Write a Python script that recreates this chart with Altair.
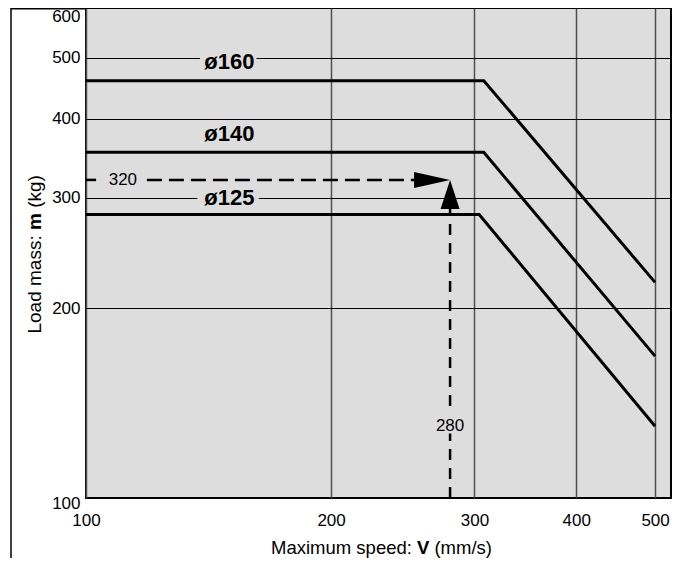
import altair as alt
import pandas as pd

# ---- data -------------------------------------------------------------------
bores = ["ø160", "ø140", "ø125"]
speed_160 = [100, 308, 500]
mass_160 = [460, 460, 220]
speed_140 = [100, 308, 500]
mass_140 = [354, 354, 168]
speed_125 = [100, 304, 500]
mass_125 = [282, 282, 130]

# worked example (arrow target)
example_speed = [280]
example_mass = [320]

x_ticks = [100, 200, 300, 400, 500]
y_ticks = [100, 200, 300, 400, 500, 600]

# annotation anchors (data units)
label_speed = [150, 150, 150]
label_mass = [493, 378, 299]
# gaps in grid lines behind bore labels
gap_x1 = [138, 137]
gap_x2 = [162, 163]
gap_y1 = [475, 291]
gap_y2 = [530, 312]
# dashed guide segments (split around the number labels)
hdash_x1 = [100, 118.8]
hdash_x2 = [102.9, 262]
vdash_y1 = [100, 140]
vdash_y2 = [126.6, 295]
guide_label_x = [111, 280]
guide_label_y = [320, 130]
guide_label_t = ["320", "280"]

BG = "#dddddd"
FONT = "Liberation Sans"
W, H = 585, 490

# ---- tables -----------------------------------------------------------------
curves = pd.DataFrame({
    "v": speed_160 + speed_140 + speed_125,
    "m": mass_160 + mass_140 + mass_125,
    "bore": [bores[0]] * 3 + [bores[1]] * 3 + [bores[2]] * 3,
})
labels = pd.DataFrame({"v": label_speed, "m": label_mass, "t": bores})
gaps = pd.DataFrame({"x1": gap_x1, "x2": gap_x2, "y1": gap_y1, "y2": gap_y2})
hdash = pd.DataFrame({"x1": hdash_x1, "x2": hdash_x2,
                      "y": example_mass * len(hdash_x1)})
vdash = pd.DataFrame({"x": example_speed * len(vdash_y1),
                      "y1": vdash_y1, "y2": vdash_y2})
tip = pd.DataFrame({"v": example_speed, "m": example_mass})
glabels = pd.DataFrame({"v": guide_label_x, "m": guide_label_y, "t": guide_label_t})
one = pd.DataFrame({"a": [0]})

xs = alt.Scale(type="log", domain=[100, 523], nice=False, zero=False)
ys = alt.Scale(type="log", domain=[100, 600], nice=False, zero=False)
x_axis = alt.Axis(values=x_ticks, format="d", title=None, ticks=False, domain=False,
                  labelFontSize=17, labelColor="black", labelPadding=14,
                  labelFlush=False, labelOverlap=False, grid=True,
                  gridColor="#505050", gridWidth=1.5)
y_axis = alt.Axis(values=y_ticks, format="d", title=None, ticks=False, domain=False,
                  labelFontSize=17, labelColor="black", labelPadding=6,
                  labelFlush=False, labelOverlap=False, labelBaseline="middle",
                  grid=True, gridColor="black", gridWidth=1,
                  labelOffset={"condition": [{"test": "datum.value == 600", "value": 8},
                                             {"test": "datum.value == 100", "value": 5}],
                               "value": 0})


def X(f):
    return alt.X(f, type="quantitative", scale=xs, axis=x_axis)


def Y(f):
    return alt.Y(f, type="quantitative", scale=ys, axis=y_axis)


gap_layer = alt.Chart(gaps).mark_rect(color=BG).encode(
    x=X("x1"), x2="x2", y=Y("y1"), y2="y2")

lines = alt.Chart(curves).mark_line(color="black", strokeWidth=3, strokeJoin="miter").encode(
    x=X("v"), y=Y("m"), detail="bore:N")

h_guides = alt.Chart(hdash).mark_rule(color="black", strokeWidth=2.5, strokeDash=[15, 7]).encode(
    x=X("x1"), x2="x2", y=Y("y"))
v_guides = alt.Chart(vdash).mark_rule(color="black", strokeWidth=2.5, strokeDash=[11, 8]).encode(
    x=X("x"), y=Y("y1"), y2="y2")

arrow_h = alt.Chart(tip).mark_point(
    shape="M0,0L-1,-0.222L-1,0.222Z", size=5184, filled=True, opacity=1,
    color="black", strokeWidth=0).encode(x=X("v"), y=Y("m"))
arrow_v = alt.Chart(tip).mark_point(
    shape="M0,0L-0.328,1L0.328,1Z", size=3364, filled=True, opacity=1,
    color="black", strokeWidth=0).encode(x=X("v"), y=Y("m"))

bore_text = alt.Chart(labels).mark_text(
    fontSize=22, fontWeight="bold", color="black", align="center", baseline="middle").encode(
    x=X("v"), y=Y("m"), text="t:N")

guide_text = alt.Chart(glabels).mark_text(
    fontSize=17, color="black", align="center", baseline="middle").encode(
    x=X("v"), y=Y("m"), text="t:N")

# axis titles with bold symbol
XB, XBASE = 331, 546
xt1 = alt.Chart(one).mark_text(fontSize=18.5, align="right", baseline="alphabetic", color="black").encode(
    x=alt.value(XB - 5.1), y=alt.value(XBASE), text=alt.value("Maximum speed:"))
xt2 = alt.Chart(one).mark_text(fontSize=18.5, fontWeight="bold", align="left", baseline="alphabetic", color="black").encode(
    x=alt.value(XB), y=alt.value(XBASE), text=alt.value("V"))
xt3 = alt.Chart(one).mark_text(fontSize=18.5, align="left", baseline="alphabetic", color="black").encode(
    x=alt.value(XB + 12.3 + 5.1), y=alt.value(XBASE), text=alt.value("(mm/s)"))

YA, YBASE = 222, -45
yt1 = alt.Chart(one).mark_text(fontSize=19, angle=270, align="right", baseline="alphabetic", color="black").encode(
    x=alt.value(YBASE), y=alt.value(YA + 5.3), text=alt.value("Load mass:"))
yt2 = alt.Chart(one).mark_text(fontSize=19, angle=270, fontWeight="bold", align="left", baseline="alphabetic", color="black").encode(
    x=alt.value(YBASE), y=alt.value(YA), text=alt.value("m"))
yt3 = alt.Chart(one).mark_text(fontSize=19, angle=270, align="left", baseline="alphabetic", color="black").encode(
    x=alt.value(YBASE), y=alt.value(YA - 16.9 - 5.3), text=alt.value("(kg)"))

frame_v = alt.Chart(one).mark_rule(color="black", strokeWidth=1.5).encode(
    x=alt.value(-75), y=alt.value(0), y2=alt.value(550))
frame_h = alt.Chart(one).mark_rule(color="black", strokeWidth=1.5).encode(
    x=alt.value(-75), x2=alt.value(0), y=alt.value(0.75))

chart = alt.layer(
    gap_layer, lines, h_guides, v_guides, arrow_h, arrow_v, bore_text, guide_text,
    xt1, xt2, xt3, yt1, yt2, yt3, frame_v, frame_h,
).properties(
    width=W, height=H,
    autosize=alt.AutoSizeParams(type="none"),
    padding={"left": 78, "top": 0, "right": 1, "bottom": 60},
    background="white",
).configure(font=FONT).configure_view(
    fill=BG, stroke="black", strokeWidth=2
)

chart.save("out.html", embed_options={"renderer": "svg", "actions": False})
